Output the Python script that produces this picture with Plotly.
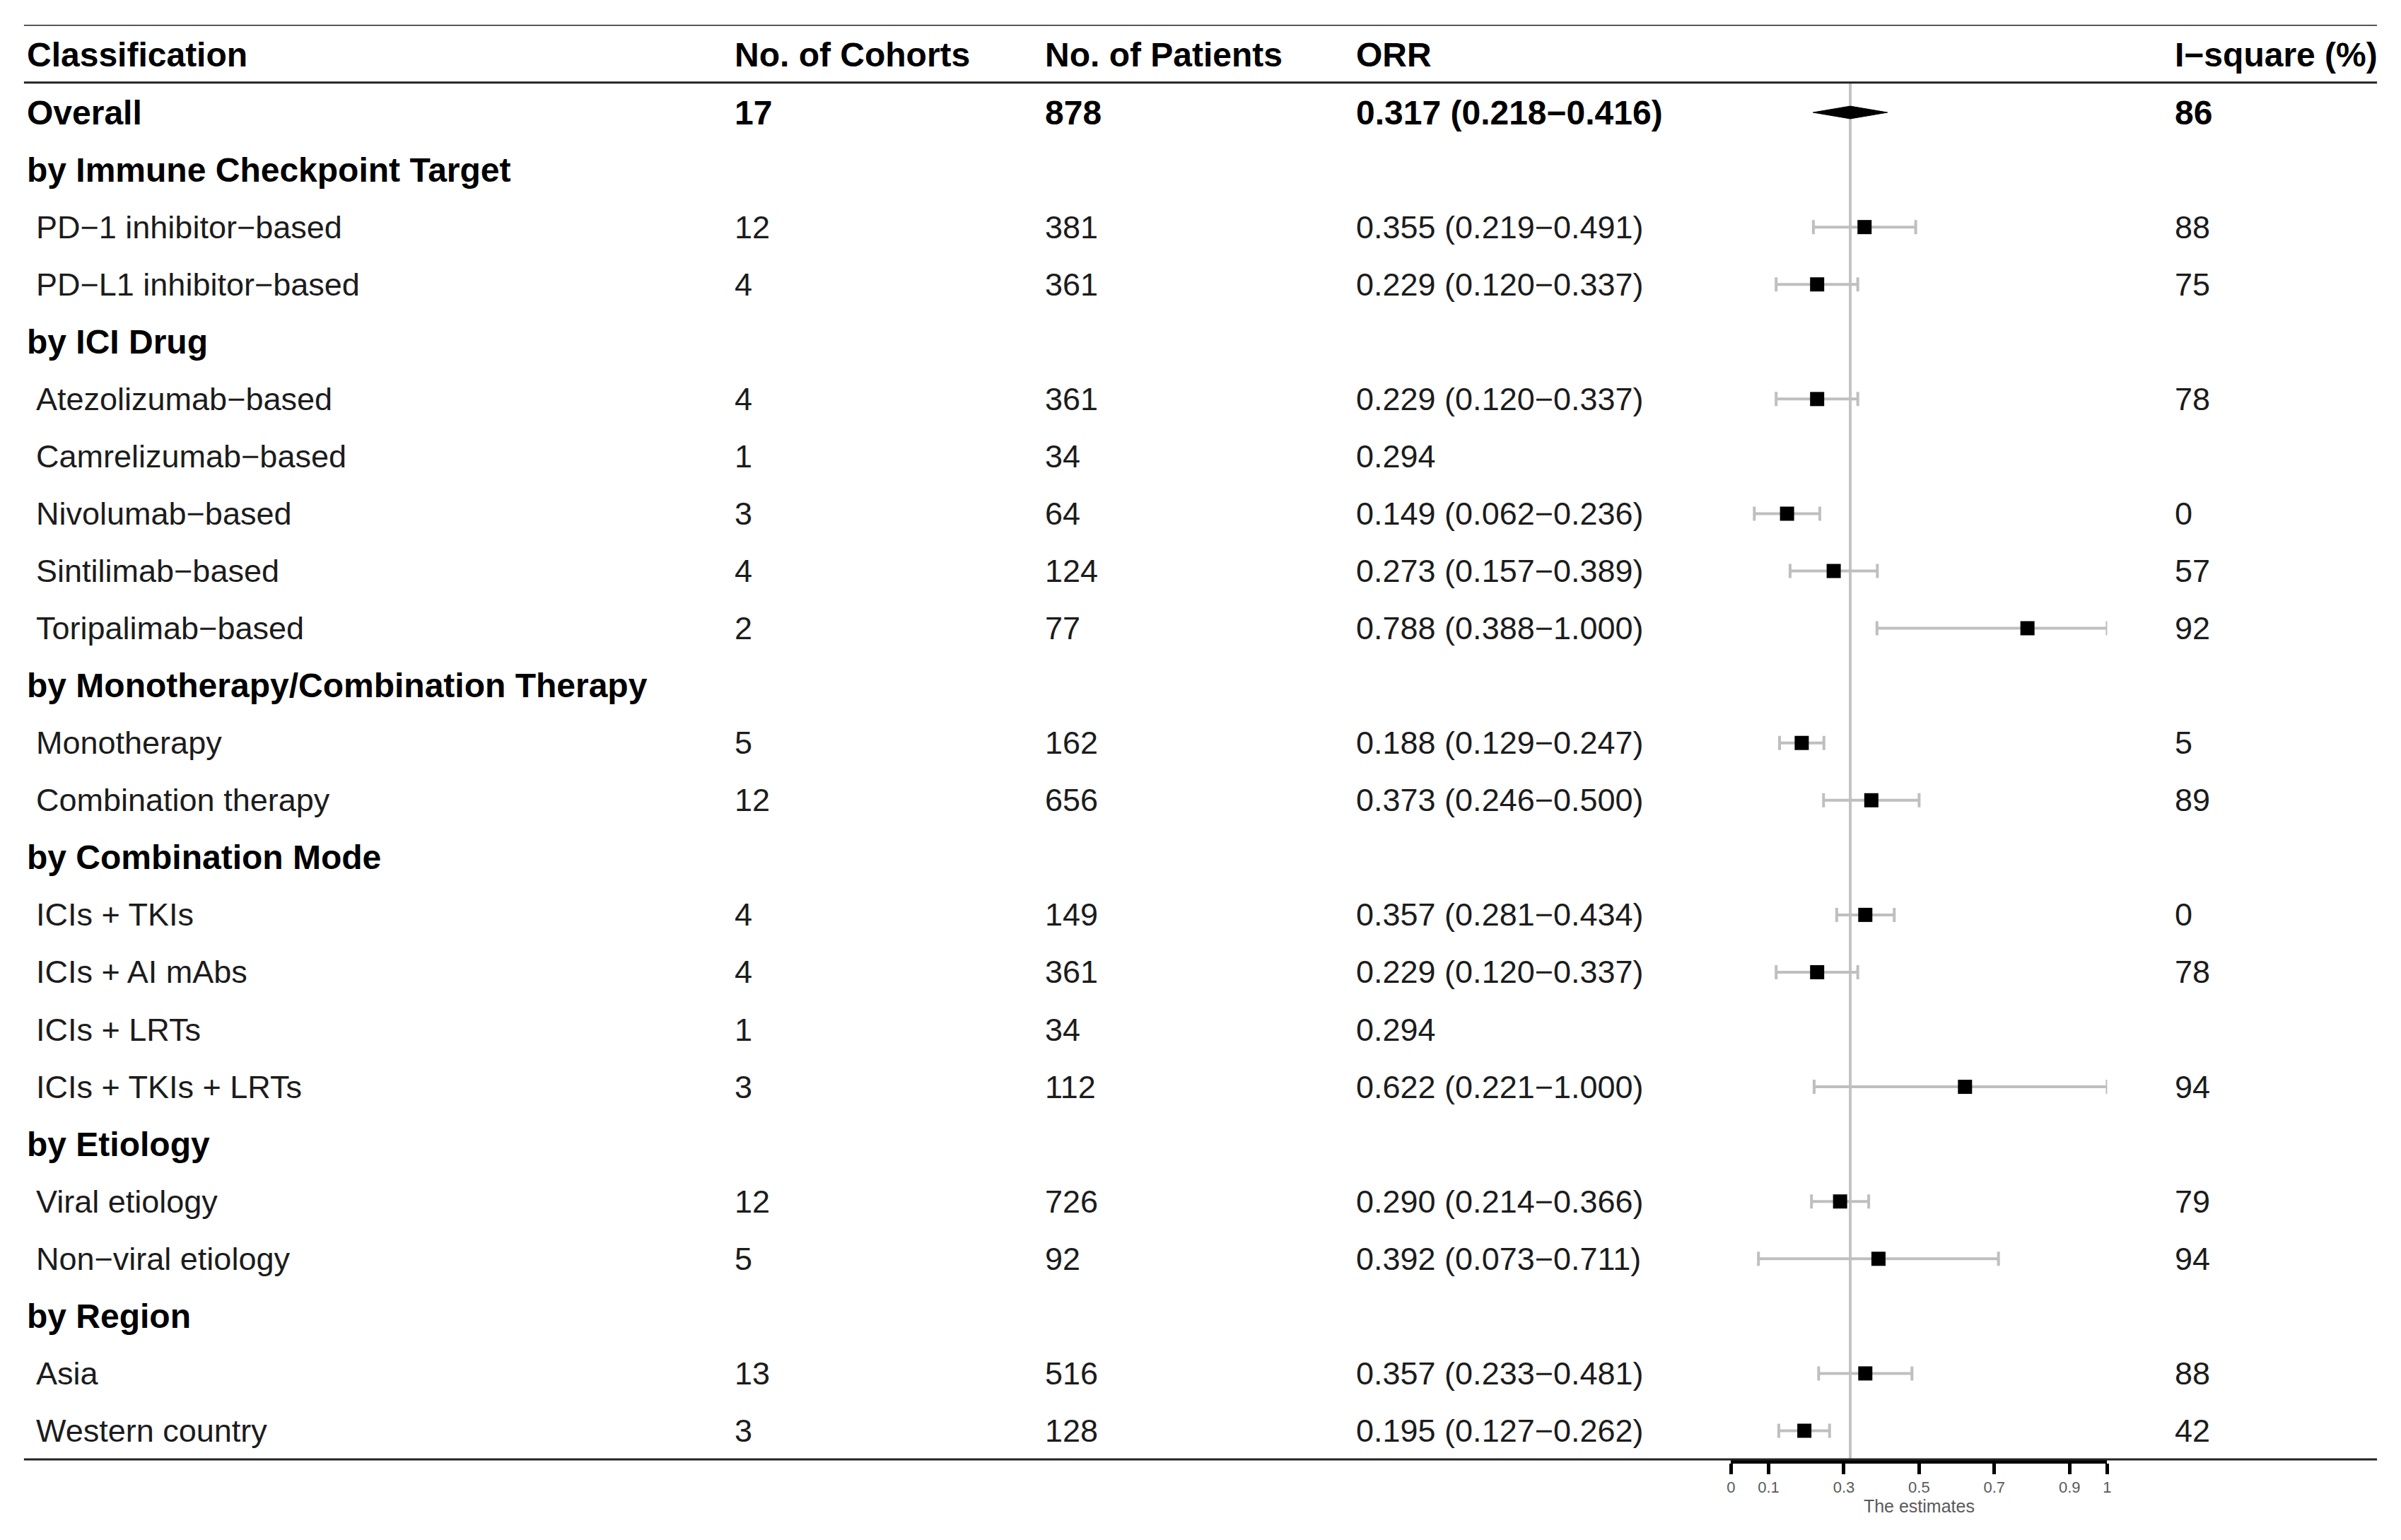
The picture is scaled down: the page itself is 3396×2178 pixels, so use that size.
import plotly.graph_objects as go

# ---------------- data ----------------
columns = ["Classification", "No. of Cohorts", "No. of Patients", "ORR", "I−square (%)"]

labels = [
    "Overall",
    "by Immune Checkpoint Target",
    "PD−1 inhibitor−based",
    "PD−L1 inhibitor−based",
    "by ICI Drug",
    "Atezolizumab−based",
    "Camrelizumab−based",
    "Nivolumab−based",
    "Sintilimab−based",
    "Toripalimab−based",
    "by Monotherapy/Combination Therapy",
    "Monotherapy",
    "Combination therapy",
    "by Combination Mode",
    "ICIs + TKIs",
    "ICIs + AI mAbs",
    "ICIs + LRTs",
    "ICIs + TKIs + LRTs",
    "by Etiology",
    "Viral etiology",
    "Non−viral etiology",
    "by Region",
    "Asia",
    "Western country",
]
row_kind = ["overall", "group", "item", "item", "group", "item", "item", "item", "item", "item",
            "group", "item", "item", "group", "item", "item", "item", "item",
            "group", "item", "item", "group", "item", "item"]
cohorts = ["17", "", "12", "4", "", "4", "1", "3", "4", "2", "", "5", "12", "",
           "4", "4", "1", "3", "", "12", "5", "", "13", "3"]
patients = ["878", "", "381", "361", "", "361", "34", "64", "124", "77", "", "162", "656", "",
            "149", "361", "34", "112", "", "726", "92", "", "516", "128"]
orr = [0.317, None, 0.355, 0.229, None, 0.229, 0.294, 0.149, 0.273, 0.788, None, 0.188, 0.373, None,
       0.357, 0.229, 0.294, 0.622, None, 0.290, 0.392, None, 0.357, 0.195]
lower = [0.218, None, 0.219, 0.120, None, 0.120, None, 0.062, 0.157, 0.388, None, 0.129, 0.246, None,
         0.281, 0.120, None, 0.221, None, 0.214, 0.073, None, 0.233, 0.127]
upper = [0.416, None, 0.491, 0.337, None, 0.337, None, 0.236, 0.389, 1.000, None, 0.247, 0.500, None,
         0.434, 0.337, None, 1.000, None, 0.366, 0.711, None, 0.481, 0.262]
isq = ["86", "", "88", "75", "", "78", "", "0", "57", "92", "", "5", "89", "",
       "0", "78", "", "94", "", "79", "94", "", "88", "42"]

tick_vals = [0, 0.1, 0.3, 0.5, 0.7, 0.9, 1]
tick_text = ["0", "0.1", "0.3", "0.5", "0.7", "0.9", "1"]
axis_title = "The estimates"

# ---------------- layout constants ----------------
W, H = 3396, 2178
FONT = "Liberation Sans"
REG = 45
BOLD = 48
TXT = "#1c1c1c"
col_x = [30, 1035, 1475, 1917, 3079]     # header / bold anchors
val_x = [43, 1035, 1475, 1917, 3079]     # body value anchors
TOP_PX, BOT_PX = 35, 2064
AX0_PX, AX1_PX = 2451, 2985

rows = list(range(1, len(labels) + 1))

fig = go.Figure()

# vertical reference line at overall estimate
overall_est = orr[0]
fig.add_shape(type="line", xref="x", yref="y", x0=overall_est, x1=overall_est,
              y0=0.48, y1=len(labels) + 0.5, line=dict(color="#c4c4c4", width=4), layer="below")

# point estimates with CIs (subgroups with a CI)
px, py, pe, pm = [], [], [], []
for r, k, o, lo, hi in zip(rows, row_kind, orr, lower, upper):
    if k == "item" and o is not None and lo is not None:
        px.append(o)
        py.append(r)
        pe.append(hi - o)
        pm.append(o - lo)
fig.add_trace(go.Scatter(
    x=px, y=py, mode="markers",
    marker=dict(symbol="square", size=20, color="black"),
    error_x=dict(type="data", symmetric=False, array=pe, arrayminus=pm,
                 color="#bfbfbf", thickness=4, width=10),
    hoverinfo="skip", showlegend=False))

# overall diamond
o, lo, hi, r = orr[0], lower[0], upper[0], rows[0]
fig.add_trace(go.Scatter(
    x=[lo, o, hi, o, lo], y=[r, r - 0.11, r, r + 0.11, r],
    mode="lines", fill="toself", fillcolor="black",
    line=dict(color="black", width=1), hoverinfo="skip", showlegend=False))

# ---------------- table text ----------------
ann = []
for cx, c in zip(col_x, columns):
    ann.append(dict(x=cx / W, y=0, xref="paper", yref="y", text=f"<b>{c}</b>",
                    xanchor="left", yanchor="middle", showarrow=False,
                    font=dict(family=FONT, size=BOLD, color="black")))

for r, k, lab, co, pa, o, lo, hi, iq in zip(rows, row_kind, labels, cohorts, patients,
                                             orr, lower, upper, isq):
    if o is None:
        otxt = ""
    elif lo is None:
        otxt = f"{o:.3f}"
    else:
        otxt = f"{o:.3f} ({lo:.3f}−{hi:.3f})"
    cells = [lab, co, pa, otxt, iq]
    for j, (cell, xx) in enumerate(zip(cells, val_x)):
        if not cell:
            continue
        bold = (k == "overall") or (k == "group" and j == 0)
        x0 = col_x[j] if (bold and j == 0) else xx
        ann.append(dict(x=x0 / W, y=r, xref="paper", yref="y",
                        text=f"<b>{cell}</b>" if bold else cell,
                        xanchor="left", yanchor="middle", showarrow=False,
                        font=dict(family=FONT, size=BOLD if bold else REG,
                                  color="black" if bold else TXT)))

# table rules
x_left, x_right = 28 / W, 3368 / W
for yy in [-0.53, 0.48]:
    fig.add_shape(type="line", xref="paper", yref="y", x0=x_left, x1=x_right,
                  y0=yy, y1=yy, line=dict(color="#222222", width=3))
fig.add_shape(type="line", xref="paper", yref="paper", x0=x_left, x1=x_right,
              y0=0, y1=0, line=dict(color="#222222", width=3))

fig.update_layout(
    width=W, height=H,
    margin=dict(l=0, r=0, t=TOP_PX, b=H - BOT_PX, pad=0),
    paper_bgcolor="white", plot_bgcolor="white",
    annotations=ann,
    xaxis=dict(domain=[AX0_PX / W, AX1_PX / W], range=[0, 1],
               showgrid=False, zeroline=False,
               showline=True, linecolor="black", linewidth=6,
               ticks="outside", ticklen=15, tickwidth=5, tickcolor="black",
               tickvals=tick_vals, ticktext=tick_text,
               tickfont=dict(family=FONT, size=22, color="#5a5a5a"),
               title=dict(text=axis_title, standoff=0,
                          font=dict(family=FONT, size=25, color="#5a5a5a"))),
    yaxis=dict(range=[len(labels) + 0.5, -0.53], visible=False, showgrid=False, zeroline=False),
    showlegend=False,
)

fig.write_html("out.html", config={"displayModeBar": False},
               post_script="document.body.style.margin='0px';")
